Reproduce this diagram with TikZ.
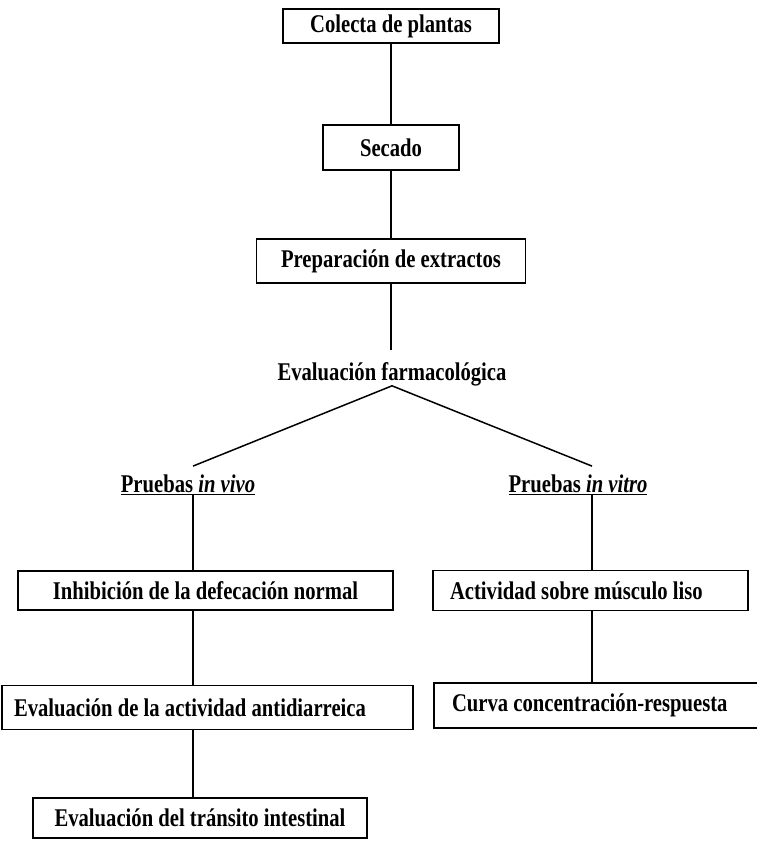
\documentclass[tikz,border=0pt]{standalone}
\usepackage{fontspec}
\setmainfont[FakeStretch=0.81]{Liberation Serif}
\begin{document}
\begin{tikzpicture}[x=1pt,y=-1pt,
  box/.style={draw, line width=1.3pt, inner sep=0pt, font=\bfseries\fontsize{25.5}{28}\selectfont},
  lbl/.style={inner sep=0pt, font=\bfseries\fontsize{25.5}{28}\selectfont},
  conn/.style={line width=1.5pt}]
\useasboundingbox (0,0) rectangle (757,843);
\clip (0,0) rectangle (757,843);
\node[box, minimum width=216pt, minimum height=34pt] (col) at (391,26) {Colecta de plantas};
\node[box, minimum width=136pt, minimum height=45pt] (sec) at (391,147.5) {Secado};
\node[box, minimum width=269pt, minimum height=44pt] (prep) at (391,261) {Preparación de extractos};
\node[lbl, anchor=base] (evf) at (392,380) {Evaluación farmacológica};
\node[lbl, anchor=base] (vivo) at (188,492) {\underline{Pruebas \textit{in vivo}}};
\node[lbl, anchor=base] (vitro) at (578,492) {\underline{Pruebas \textit{in vitro}}};
\node[box, minimum width=375pt, minimum height=39pt] (inh) at (205.5,590.5) {Inhibición de la defecación normal};
\node[box, minimum width=315pt, minimum height=40pt] (act) at (590.5,590.5) {\makebox[281pt][l]{Actividad sobre músculo liso}};
\node[box, minimum width=411pt, minimum height=44pt] (eva) at (207.5,707.5) {\makebox[387pt][l]{Evaluación de la actividad antidiarreica}};
\node[box, minimum width=334pt, minimum height=40pt] (tra) at (200,818) {Evaluación del tránsito intestinal};
\node[box, minimum width=326pt, minimum height=45pt] (cur) at (597,705.5) {\makebox[290pt][l]{Curva concentración-respuesta}};
\coordinate (evtop) at ([yshift=12pt]evf.north);
\coordinate (vivotop) at ([xshift=5pt,yshift=8pt]vivo.north);
\coordinate (vitrotop) at ([xshift=14pt,yshift=8pt]vitro.north);
\coordinate (vivobot) at ([xshift=5pt]vivo.south);
\coordinate (vitrobot) at ([xshift=14pt]vitro.south);
\draw[conn] (col.south) -- (col.south |- sec.north);
\draw[conn] (sec.south) -- (sec.south |- prep.north);
\draw[conn] (prep.south) -- (prep.south |- evtop);
\draw[conn] (vivotop) -- (evf.south) -- (vitrotop);
\draw[conn] (vivobot) -- (vivobot |- inh.north);
\draw[conn] (vitrobot) -- (vitrobot |- act.north);
\draw[conn] (inh.south -| vivobot) -- (vivobot |- eva.north);
\draw[conn] (eva.south -| vivobot) -- (vivobot |- tra.north);
\draw[conn] (act.south -| vitrobot) -- (vitrobot |- cur.north);
\end{tikzpicture}
\end{document}
